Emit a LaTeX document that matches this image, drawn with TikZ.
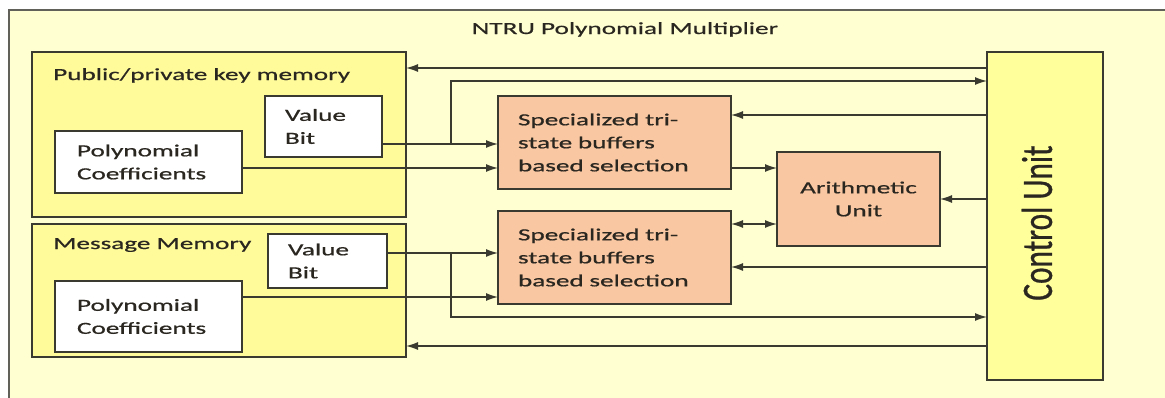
\documentclass[tikz,border=0pt]{standalone}
\usepackage{fontspec}
\setmainfont{Carlito}
\newfontfamily\widefont[FakeStretch=1.6,FakeBold=0.7]{Carlito}
\newfontfamily\cufont[FakeStretch=0.72,FakeBold=0.5]{Carlito}
\usetikzlibrary{arrows.meta}
\definecolor{bgc}{HTML}{FFFFD2}
\definecolor{memc}{HTML}{FFFB9A}
\definecolor{cuc}{HTML}{FFFF9C}
\definecolor{orc}{HTML}{F9C8A2}
\definecolor{linec}{HTML}{3A3A30}
\definecolor{txtc}{HTML}{2A2620}
\newcommand{\txtfont}{\widefont\fontsize{17}{23}\selectfont}
\begin{document}
\begin{tikzpicture}[x=1pt,y=-1pt,
  box/.style={draw=linec, line width=1.6pt, inner sep=0pt, outer sep=0pt},
  membox/.style={box, fill=memc},
  whitebox/.style={box, fill=white, font=\txtfont, text=txtc, align=left},
  orangebox/.style={box, fill=orc, font=\txtfont, text=txtc},
  lbl/.style={font=\txtfont, text=txtc, inner sep=0pt, anchor=base west},
  arr/.style={draw=linec, line width=1.3pt, -{Latex[length=12pt,width=8pt]}},
  darr/.style={draw=linec, line width=1.3pt, {Latex[length=12pt,width=8pt]}-{Latex[length=12pt,width=8pt]}}]
\useasboundingbox (0,0) rectangle (1165,397);
\begin{scope}
\clip (0,0) rectangle (1165,397);
\draw[draw=linec!80, line width=1.5pt, fill=bgc] (9,10) rectangle (1175,410);
\end{scope}
\node[lbl, anchor=base] (title) at (625,34) {NTRU Polynomial Multiplier};
% memories
\node[membox, minimum width=374pt, minimum height=165pt] (pk) at (219,134.5) {};
\node[lbl] (pkl) at (53,80) {Public/private key memory};
\node[whitebox, text width=77pt, inner xsep=20pt, minimum height=61pt] (pkvb) at (323.5,126.5) {Value\\Bit};
\node[whitebox, text width=143pt, inner xsep=22pt, minimum height=62pt] (pkpc) at (148.5,162) {Polynomial\\Coefficients};
\node[membox, minimum width=374pt, minimum height=133pt] (mm) at (219,290.5) {};
\node[lbl] (mml) at (53,249) {Message Memory};
\node[whitebox, text width=79pt, inner xsep=20pt, minimum height=54pt] (mmvb) at (327.5,261) {Value\\Bit};
\node[whitebox, text width=143pt, inner xsep=22pt, minimum height=71pt] (mmpc) at (148.5,316.5) {Polynomial\\Coefficients};
% processing
\node[orangebox, text width=193pt, inner xsep=20pt, minimum height=93pt, align=left] (ts1) at (614.5,142.5) {Specialized tri-\\state buffers\\based selection};
\node[orangebox, text width=193pt, inner xsep=20pt, minimum height=93pt, align=left] (ts2) at (614.5,257.5) {Specialized tri-\\state buffers\\based selection};
\node[orangebox, minimum width=163pt, minimum height=94pt, align=center] (au) at (858.5,199) {Arithmetic\\Unit};
\node[box, fill=cuc, minimum width=116pt, minimum height=328pt] (cu) at (1045,216) {};
\node[rotate=90, inner sep=0pt, text=txtc, font=\cufont\fontsize{43.5}{50}\selectfont] (cut) at (1037,223) {Control Unit};
% row coordinates
\coordinate (r68) at (0,68);
\coordinate (r81) at (0,81);
\coordinate (r115) at (0,115);
\coordinate (r144) at (0,144);
\coordinate (r168) at (0,168);
\coordinate (r199) at (0,199);
\coordinate (r224) at (0,224);
\coordinate (r253) at (0,253);
\coordinate (r267) at (0,267);
\coordinate (r297) at (0,297);
\coordinate (r317) at (0,317);
\coordinate (r346) at (0,346);
\coordinate (j1) at (451,144);
\coordinate (j2) at (451,253);
% connectors
\draw[arr] (cu.west |- r68) -- (pk.east |- r68);
\draw[arr] (pkvb.east |- r144) -- (ts1.west |- r144);
\draw[arr] (j1) |- (cu.west |- r81);
\draw[arr] (pkpc.east |- r168) -- (ts1.west |- r168);
\draw[arr] (cu.west |- r115) -- (ts1.east |- r115);
\draw[arr] (ts1.east |- r168) -- (au.west |- r168);
\draw[darr] (ts2.east |- r224) -- (au.west |- r224);
\draw[arr] (cu.west |- r199) -- (au.east |- r199);
\draw[arr] (cu.west |- r267) -- (ts2.east |- r267);
\draw[arr] (mmvb.east |- r253) -- (ts2.west |- r253);
\draw[arr] (mmpc.east |- r297) -- (ts2.west |- r297);
\draw[arr] (j2) |- (cu.west |- r317);
\draw[arr] (cu.west |- r346) -- (mm.east |- r346);
\end{tikzpicture}
\end{document}
